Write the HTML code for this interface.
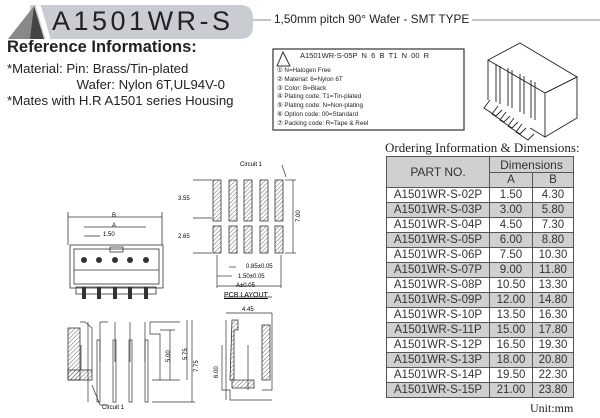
<!DOCTYPE html>
<html><head><meta charset="utf-8"><style>
body{margin:0;width:600px;height:418px;overflow:hidden;background:#fff;font-family:"Liberation Sans",sans-serif;position:relative}
.a{position:absolute;white-space:nowrap}
table{position:absolute;left:386px;top:156px;border-collapse:collapse;font-size:11.5px;color:#333}
td{border:1px solid #555;height:14px;padding:0;text-align:center;line-height:14px}
tr.g td{background:#d0d0d2}
.hd td{background:#d0d0d2}
.r{transform:rotate(-90deg);transform-origin:left top;font-size:6px}
</style></head><body>
<svg class="a" style="left:0;top:0" width="600" height="418">
<defs><pattern id="h" width="3" height="3" patternUnits="userSpaceOnUse" patternTransform="rotate(45)"><line x1="0" y1="0" x2="0" y2="3" stroke="#444" stroke-width="0.8"/></pattern></defs>
<path d="M30 5 H240 Q253 5 253 18 V26 Q253 39 240 39 H30 Z" fill="#c9ccd2"/>
<path d="M48 39 L38 5" stroke="#fff" stroke-width="5"/>
<polygon points="8,39 34,6 44,39" fill="#888"/>
<polygon points="34,6 44,39 30,39" fill="#444"/>
<line x1="253" y1="20" x2="271" y2="20" stroke="#888"/>
<line x1="472" y1="20" x2="600" y2="20" stroke="#888"/>
<rect x="273" y="49" width="191" height="81" fill="none" stroke="#333" stroke-width="1.2"/>
<polygon points="283,52 277,66 290,66" fill="none" stroke="#333"/>
<g stroke="#222" fill="none" stroke-width="0.9">
<polygon points="488,60 520,43 577,77 545,93"/>
<polygon points="545,93 577,77 577,118 545,137"/>
<path d="M488 60 V100 M545 137 L530 128"/>
<path d="M490 100 l-6 8 l12 8 l6-6 M498 106 l-6 8 l12 8 l6-6 M506 112 l-6 8 l12 8 l6-6 M514 118 l-6 8 l12 8 l6-6 M522 124 l-6 8 l12 8 l6-6"/>
<path d="M496 64 v38 M500 66 v38 M508 68 v38 M512 70 v38 M520 74 v38 M524 76 v38 M531 80 v38 M535 82 v38"/>
</g>
<g stroke="#333" fill="none" stroke-width="0.8">
<rect x="70" y="245" width="93" height="43"/><rect x="74" y="249" width="85" height="35"/>
<line x1="74" y1="270" x2="159" y2="270"/>
<rect x="110" y="247" width="13" height="5"/>
<line x1="68" y1="217" x2="162" y2="217"/><line x1="84" y1="227" x2="146" y2="227"/><line x1="84" y1="236" x2="100" y2="236"/>
<line x1="68" y1="212" x2="68" y2="245"/><line x1="162" y1="212" x2="162" y2="245"/>
<rect x="76" y="287" width="80" height="7"/>
</g>
<g fill="#333"><circle cx="84" cy="260" r="3"/><circle cx="99" cy="260" r="3"/><circle cx="115" cy="260" r="3"/><circle cx="130" cy="260" r="3"/><circle cx="146" cy="260" r="3"/>
<rect x="82" y="287" width="4" height="12"/><rect x="97" y="287" width="4" height="12"/><rect x="113" y="287" width="4" height="12"/><rect x="128" y="287" width="4" height="12"/><rect x="144" y="287" width="4" height="12"/></g>
<g stroke="#333" fill="url(#h)" stroke-width="0.8">
<rect x="213" y="180" width="8" height="41"/><rect x="213" y="226" width="8" height="27"/>
<rect x="229" y="180" width="8" height="41"/><rect x="229" y="226" width="8" height="27"/>
<rect x="244" y="180" width="8" height="41"/><rect x="244" y="226" width="8" height="27"/>
<rect x="260" y="180" width="8" height="41"/><rect x="260" y="226" width="8" height="27"/>
<rect x="275" y="180" width="8" height="41"/><rect x="275" y="226" width="8" height="27"/>
<rect x="68" y="328" width="12" height="52"/><rect x="68" y="370" width="24" height="10"/>
<path d="M232 320 h6 v10 h-4 v50 h-4 z"/><path d="M232 380 h22 v8 h-22 z"/><rect x="262" y="325" width="8" height="55"/>
</g>
<g stroke="#333" fill="none" stroke-width="0.7">
<line x1="193" y1="180" x2="212" y2="180"/><line x1="193" y1="218" x2="212" y2="218"/><line x1="193" y1="253" x2="212" y2="253"/>
<line x1="285" y1="180" x2="296" y2="180"/><line x1="285" y1="253" x2="296" y2="253"/><line x1="293" y1="180" x2="293" y2="253"/>
<line x1="217" y1="286" x2="281" y2="286"/><line x1="217" y1="276" x2="232" y2="276"/><line x1="229" y1="267" x2="236" y2="267"/>
<line x1="217" y1="255" x2="217" y2="288"/><line x1="281" y1="255" x2="281" y2="288"/>
<path d="M80 322 h5 l7 6 V370 M88 322 V402 M100 322 v40 M115 322 v40 M130 322 v40 M145 322 v40 M108 322 h-8 M150 322 v12 h10 V380 M150 322 h30"/>
<path d="M97 340 v62 h3 v-62z M113 340 v62 h3 v-62z M129 340 v62 h3 v-62z M145 340 v62 h3 v-62z M81 345 v25"/>
<path d="M152 380 H180 M152 402 H195 M160 330 h15 M170 330 v50 M187 320 v60 M192 320 v82"/>
<path d="M226 320 v80 M226 313 h46 M272 313 v7 M272 320 v70 h-10 M222 345 v45 h8 v10 h40 M230 400 h42 M248 345 v45"/>
<path d="M92 385 l8 20 h8 M282 165 l4 12"/>
</g>
<line x1="224" y1="297" x2="272" y2="297" stroke="#333" stroke-width="0.7"/>
</svg>
<div class="a" style="left:52px;top:6px;font-size:27px;letter-spacing:3.5px;color:#222">A1501WR-S</div>
<div class="a" style="left:274px;top:12px;font-size:11.8px;color:#222">1,50mm pitch 90° Wafer - SMT TYPE</div>
<div class="a" style="left:7px;top:38px;font-size:16.5px;font-weight:bold;color:#222">Reference Informations:</div>
<div class="a" style="left:7px;top:61px;font-size:13.2px;color:#222;line-height:16px">*Material: Pin: Brass/Tin-plated<br>&nbsp;&nbsp;&nbsp;&nbsp;&nbsp;&nbsp;&nbsp;&nbsp;&nbsp;&nbsp;&nbsp;&nbsp;&nbsp;&nbsp;&nbsp;&nbsp;&nbsp;&nbsp;&nbsp;Wafer: Nylon 6T,UL94V-0<br>*Mates with H.R A1501 series Housing</div>
<div class="a" style="left:300px;top:51px;font-size:7.5px;color:#222">A1501WR-S-05P &nbsp;N &nbsp;6 &nbsp;B &nbsp;T1 &nbsp;N &nbsp;00 &nbsp;R</div>
<div class="a" style="left:277px;top:67px;font-size:6.3px;color:#222;line-height:8.8px">① N=Halogen Free<br>② Material: 6=Nylon 6T<br>③ Color: B=Black<br>④ Plating code: T1=Tin-plated<br>⑤ Plating code: N=Non-plating<br>⑥ Option code: 00=Standard<br>⑦ Packing code: R=Tape &amp; Reel</div>
<div class="a" style="left:385px;top:140px;font-size:13px;font-family:'Liberation Serif',serif;color:#222">Ordering Information &amp; Dimensions:</div>
<table>
<tr class="hd"><td rowspan="2" style="width:102px;font-size:12px">PART NO.</td><td colspan="2" style="height:15px;font-size:12px">Dimensions</td></tr>
<tr class="hd"><td style="width:42px">A</td><td style="width:40px">B</td></tr>
<tr><td>A1501WR-S-02P</td><td>1.50</td><td>4.30</td></tr>
<tr class="g"><td>A1501WR-S-03P</td><td>3.00</td><td>5.80</td></tr>
<tr><td>A1501WR-S-04P</td><td>4.50</td><td>7.30</td></tr>
<tr class="g"><td>A1501WR-S-05P</td><td>6.00</td><td>8.80</td></tr>
<tr><td>A1501WR-S-06P</td><td>7.50</td><td>10.30</td></tr>
<tr class="g"><td>A1501WR-S-07P</td><td>9.00</td><td>11.80</td></tr>
<tr><td>A1501WR-S-08P</td><td>10.50</td><td>13.30</td></tr>
<tr class="g"><td>A1501WR-S-09P</td><td>12.00</td><td>14.80</td></tr>
<tr><td>A1501WR-S-10P</td><td>13.50</td><td>16.30</td></tr>
<tr class="g"><td>A1501WR-S-11P</td><td>15.00</td><td>17.80</td></tr>
<tr><td>A1501WR-S-12P</td><td>16.50</td><td>19.30</td></tr>
<tr class="g"><td>A1501WR-S-13P</td><td>18.00</td><td>20.80</td></tr>
<tr><td>A1501WR-S-14P</td><td>19.50</td><td>22.30</td></tr>
<tr class="g"><td>A1501WR-S-15P</td><td>21.00</td><td>23.80</td></tr>
</table>
<div class="a" style="left:530px;top:401px;font-size:12px;font-family:'Liberation Serif',serif;color:#222">Unit:mm</div>
<div class="a" style="left:112px;top:213px;font-size:6px">B</div>
<div class="a" style="left:112px;top:223px;font-size:6px">A</div>
<div class="a" style="left:103px;top:232px;font-size:6px">1.50</div>
<div class="a" style="left:240px;top:162px;font-size:6px">Circuit 1</div>
<div class="a" style="left:178px;top:196px;font-size:6px">3.55</div>
<div class="a" style="left:178px;top:234px;font-size:6px">2.65</div>
<div class="a" style="left:246px;top:264px;font-size:6px">0.85±0.05</div>
<div class="a" style="left:238px;top:274px;font-size:6px">1.50±0.05</div>
<div class="a" style="left:236px;top:283px;font-size:6px">A±0.05</div>
<div class="a" style="left:224px;top:292px;font-size:7px;text-decoration:underline">PCB LAYOUT</div>
<div class="a" style="left:242px;top:307px;font-size:6px">4.45</div>
<div class="a" style="left:102px;top:405px;font-size:6px">Circuit 1</div>
<div class="a r" style="left:296px;top:222px">7.00</div>
<div class="a r" style="left:166px;top:362px">5.00</div>
<div class="a r" style="left:183px;top:360px">5.75</div>
<div class="a r" style="left:194px;top:372px">7.75</div>
<div class="a r" style="left:214px;top:378px">6.00</div>
</body></html>
